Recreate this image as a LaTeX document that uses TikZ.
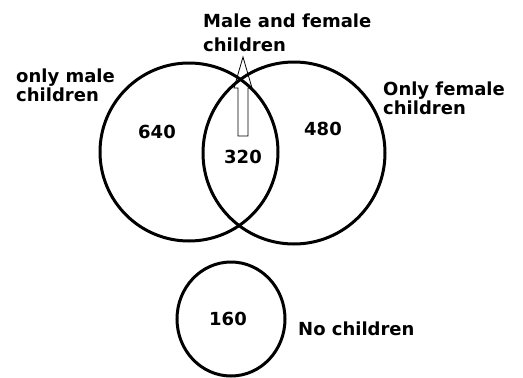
\documentclass[tikz,border=0pt]{standalone}
\usepackage{fontspec}
\setmainfont{DejaVu Sans}
\usetikzlibrary{shapes.geometric}

\begin{document}
\begin{tikzpicture}[x=1pt, y=-1pt, font=\fontsize{18}{19}\selectfont\bfseries,
  ring/.style={draw, line width=3pt, inner sep=0pt},
  tag/.style={inner sep=0pt, align=left, anchor=north west},
  count/.style={inner sep=0pt}]
  \useasboundingbox (0,0) rectangle (523,378);
  \node[ring, circle, minimum size=178pt] (male) at (189,152) {};
  \node[ring, circle, minimum size=182pt] (female) at (294,153) {};
  \node[ring, ellipse, minimum width=108pt, minimum height=114pt] (none) at (231,319) {};
  % counts
  \node[count] (n640) at (157,132) {640};
  \node[count] (n480) at (323,129) {480};
  \node[count] (n320) at (243,157) {320};
  \node[count] (n160) at (228,319) {160};
  % labels
  \node[tag] (both) at (203,14) {Male and female\\[5pt]children};
  \node[tag] (onlymale) at (16,69) {only male\\children};
  \node[tag] (onlyfemale) at (383,82) {Only female\\children};
  \node[count, anchor=base west] (nokids) at (298,335) {No children};
  % hollow arrow
  \coordinate (tail) at (243,136);
  \coordinate (tip) at (243,57);
  \draw[line width=0.8pt] (tail) ++(-5,0) -- ++(0,-48) -- ++(-4,0) -- (tip)
    -- ++(9,31) -- ++(-4,0) -- ++(0,48) -- cycle;
\end{tikzpicture}
\end{document}
